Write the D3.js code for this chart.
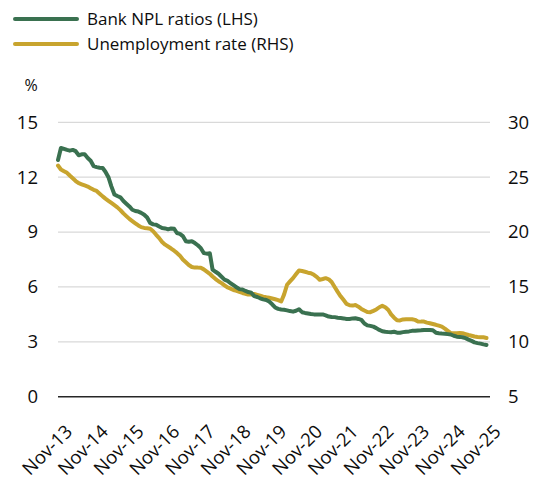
<!DOCTYPE html>
<html>
<head>
<meta charset="utf-8">
<script src="https://cdn.jsdelivr.net/npm/d3@7"></script>
<style>
  html, body { margin: 0; padding: 0; background: #fff; }
  svg { display: block; font-family: "Open Sans", "Noto Sans", sans-serif; }
</style>
</head>
<body>
<svg id="chart" width="539" height="480"></svg>
<script>
// Monthly series, Nov-2013 through Nov-2025 (12 values per row = one year)
const startMonth = "2013-11";
const nplRatio = [ // Bank NPL ratios, % (left axis)
  12.94, 13.60, 13.55, 13.49, 13.45, 13.49, 13.42, 13.20, 13.25, 13.25, 13.05, 12.90,
  12.60, 12.55, 12.52, 12.50, 12.30, 12.00, 11.50, 11.05, 10.97, 10.90, 10.70, 10.55,
  10.40, 10.22, 10.15, 10.12, 10.05, 9.95, 9.80, 9.50, 9.42, 9.40, 9.30, 9.22,
  9.20, 9.15, 9.20, 9.18, 8.95, 8.90, 8.78, 8.50, 8.47, 8.50, 8.40, 8.28,
  8.12, 7.85, 7.82, 7.84, 6.95, 6.83, 6.72, 6.56, 6.40, 6.33, 6.20, 6.10,
  5.98, 5.88, 5.86, 5.78, 5.72, 5.68, 5.50, 5.45, 5.38, 5.32, 5.29, 5.20,
  5.05, 4.88, 4.80, 4.77, 4.75, 4.72, 4.68, 4.65, 4.70, 4.78, 4.62, 4.58,
  4.55, 4.52, 4.50, 4.50, 4.50, 4.50, 4.45, 4.38, 4.36, 4.35, 4.32, 4.30,
  4.28, 4.25, 4.25, 4.28, 4.29, 4.25, 4.20, 4.00, 3.90, 3.87, 3.83, 3.75,
  3.65, 3.58, 3.55, 3.53, 3.52, 3.55, 3.50, 3.50, 3.53, 3.55, 3.57, 3.60,
  3.60, 3.62, 3.63, 3.65, 3.65, 3.65, 3.63, 3.50, 3.47, 3.45, 3.44, 3.42,
  3.40, 3.33, 3.28, 3.27, 3.25, 3.20, 3.12, 3.05, 2.97, 2.93, 2.90, 2.86,
  2.83
];
const unemploymentRate = [ // Unemployment rate, % (right axis)
  26.06, 25.70, 25.55, 25.40, 25.15, 24.90, 24.65, 24.45, 24.35, 24.25, 24.15, 24.00,
  23.85, 23.75, 23.50, 23.25, 23.05, 22.85, 22.65, 22.45, 22.25, 22.00, 21.70, 21.45,
  21.20, 21.00, 20.80, 20.60, 20.45, 20.38, 20.35, 20.30, 20.08, 19.75, 19.45, 19.10,
  18.85, 18.68, 18.50, 18.30, 18.10, 17.85, 17.50, 17.25, 17.00, 16.82, 16.76, 16.76,
  16.74, 16.60, 16.40, 16.20, 15.95, 15.72, 15.52, 15.35, 15.15, 14.95, 14.85, 14.72,
  14.65, 14.55, 14.45, 14.38, 14.30, 14.32, 14.36, 14.28, 14.20, 14.12, 14.06, 14.02,
  13.95, 13.88, 13.80, 13.68, 14.30, 15.20, 15.50, 15.80, 16.15, 16.50, 16.45, 16.38,
  16.30, 16.25, 16.10, 15.90, 15.65, 15.72, 15.80, 15.70, 15.45, 15.00, 14.55, 14.15,
  13.80, 13.45, 13.33, 13.30, 13.35, 13.20, 13.00, 12.85, 12.72, 12.70, 12.82, 12.95,
  13.15, 13.28, 13.15, 12.90, 12.50, 12.20, 11.97, 11.95, 12.04, 12.06, 12.06, 12.06,
  12.00, 11.86, 11.84, 11.84, 11.75, 11.69, 11.62, 11.55, 11.47, 11.38, 11.20, 11.00,
  10.80, 10.78, 10.78, 10.80, 10.78, 10.70, 10.62, 10.55, 10.48, 10.44, 10.42, 10.41,
  10.35
];
const xTickLabels = ["Nov-13", "Nov-14", "Nov-15", "Nov-16", "Nov-17", "Nov-18", "Nov-19",
                     "Nov-20", "Nov-21", "Nov-22", "Nov-23", "Nov-24", "Nov-25"];
const leftTicks = [0, 3, 6, 9, 12, 15];
const rightTicks = [5, 10, 15, 20, 25, 30];
const seriesNames = ["Bank NPL ratios (LHS)", "Unemployment rate (RHS)"];
const unitLabel = "%";

const green = "#3a7150";
const gold = "#c8a42e";
const ink = "#0d0d0d";

const svg = d3.select("#chart");
const plot = { left: 58, right: 490, top: 122.3, bottom: 396.7 };

const parseMonth = d3.timeParse("%Y-%m");
const t0 = parseMonth(startMonth);
const dates = nplRatio.map((_, i) => d3.timeMonth.offset(t0, i));

const x = d3.scaleTime()
  .domain([t0, d3.timeMonth.offset(t0, 144)])
  .range([plot.left, 486.5]);
const yL = d3.scaleLinear().domain([0, 15]).range([plot.bottom, plot.top]);
const yR = d3.scaleLinear().domain([5, 30]).range([plot.bottom, plot.top]);

// Horizontal gridlines
svg.append("g")
  .selectAll("line")
  .data(leftTicks.filter(d => d !== 0))
  .join("line")
  .attr("x1", plot.left).attr("x2", plot.right)
  .attr("y1", d => yL(d)).attr("y2", d => yL(d))
  .attr("stroke", "#d9d9d9").attr("stroke-width", 1.3);

// Baseline
svg.append("line")
  .attr("x1", plot.left).attr("x2", plot.right)
  .attr("y1", yL(0)).attr("y2", yL(0))
  .attr("stroke", "#262626").attr("stroke-width", 1.4);

// Left axis
const leftAxis = svg.append("g")
  .attr("transform", `translate(${plot.left},0)`)
  .call(d3.axisLeft(yL).tickValues(leftTicks).tickSize(0).tickPadding(20));
leftAxis.select(".domain").remove();
leftAxis.selectAll("text")
  .attr("font-size", 18.5).attr("fill", ink)
  .attr("font-family", "Open Sans, Noto Sans, sans-serif");

// Right axis
const rightAxis = svg.append("g")
  .attr("transform", `translate(${plot.right},0)`)
  .call(d3.axisRight(yR).tickValues(rightTicks).tickSize(0).tickPadding(18));
rightAxis.select(".domain").remove();
rightAxis.selectAll("text")
  .attr("font-size", 18.5).attr("fill", ink)
  .attr("font-family", "Open Sans, Noto Sans, sans-serif");

// Bottom axis with rotated labels
const xTickDates = xTickLabels.map((_, i) => d3.timeMonth.offset(t0, 12 * i));
const bottomAxis = svg.append("g")
  .attr("transform", `translate(0,${plot.bottom})`)
  .call(d3.axisBottom(x).tickValues(xTickDates)
    .tickFormat((d, i) => xTickLabels[i]).tickSize(0));
bottomAxis.select(".domain").remove();
bottomAxis.selectAll("text")
  .attr("font-size", 18.5).attr("fill", ink)
  .attr("font-family", "Open Sans, Noto Sans, sans-serif")
  .attr("text-anchor", "end")
  .attr("dy", 0)
  .attr("y", 0)
  .attr("transform", "translate(15,36) rotate(-45)");

// Unit label
svg.append("text")
  .attr("x", 31).attr("y", 91)
  .attr("text-anchor", "middle")
  .attr("font-size", 16).attr("fill", ink)
  .text(unitLabel);

// Series lines
const lineL = d3.line().x((d, i) => x(dates[i])).y(d => yL(d)).curve(d3.curveLinear);
const lineR = d3.line().x((d, i) => x(dates[i])).y(d => yR(d)).curve(d3.curveLinear);

svg.append("path")
  .datum(unemploymentRate)
  .attr("d", lineR)
  .attr("fill", "none").attr("stroke", gold)
  .attr("stroke-width", 4).attr("stroke-linejoin", "round").attr("stroke-linecap", "round");

svg.append("path")
  .datum(nplRatio)
  .attr("d", lineL)
  .attr("fill", "none").attr("stroke", green)
  .attr("stroke-width", 4).attr("stroke-linejoin", "round").attr("stroke-linecap", "round");

// Legend
const legend = svg.append("g");
const legendItems = [
  { name: seriesNames[0], color: green, y: 19 },
  { name: seriesNames[1], color: gold, y: 44 }
];
legend.selectAll("line")
  .data(legendItems)
  .join("line")
  .attr("x1", 15).attr("x2", 77)
  .attr("y1", d => d.y).attr("y2", d => d.y)
  .attr("stroke", d => d.color).attr("stroke-width", 4).attr("stroke-linecap", "round");
legend.selectAll("text")
  .data(legendItems)
  .join("text")
  .attr("x", 87).attr("y", d => d.y + 6)
  .attr("font-size", 17).attr("fill", ink)
  .text(d => d.name);
</script>
</body>
</html>
